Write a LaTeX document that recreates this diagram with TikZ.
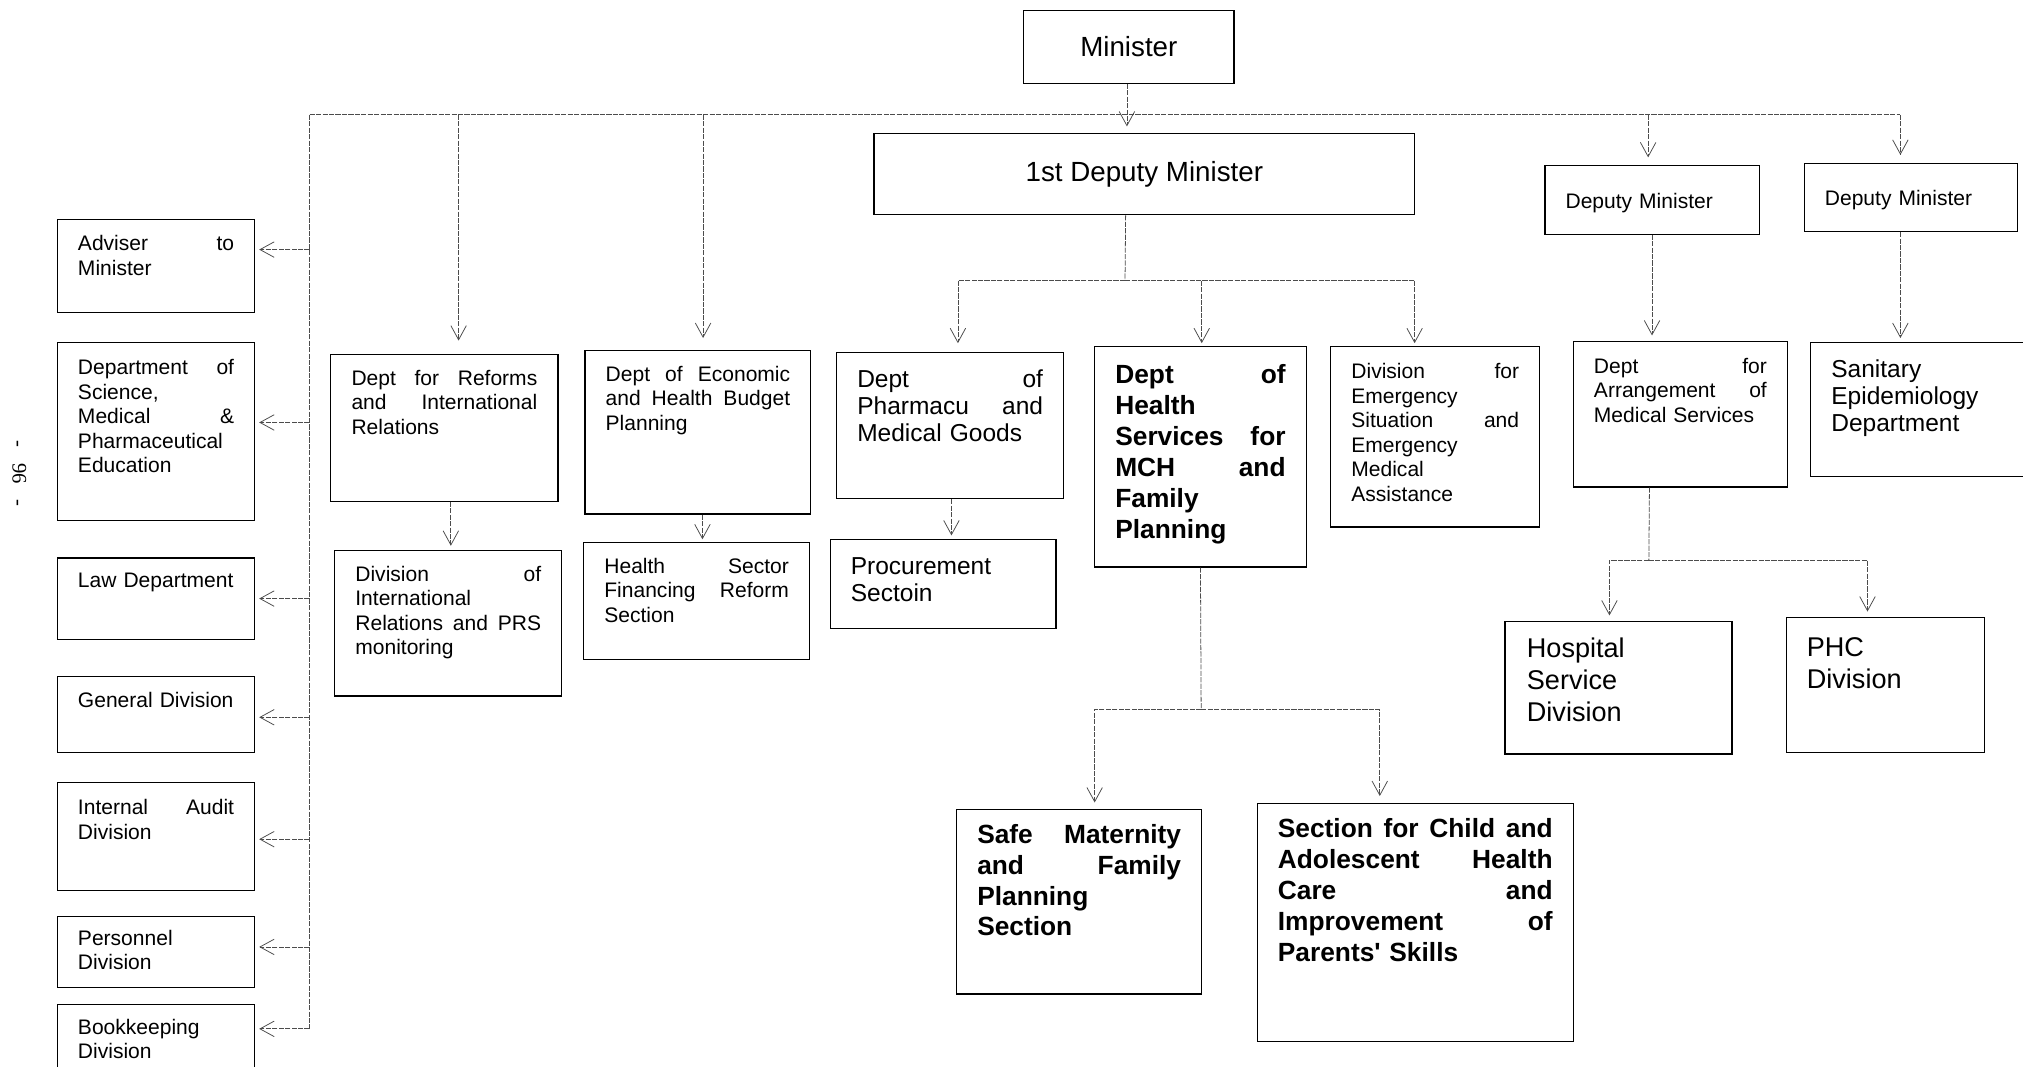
\documentclass[tikz,border=0pt]{standalone}
\usepackage{fontspec}
\setmainfont{Liberation Sans}
\newfontfamily\pnumfont{Liberation Serif}
\usetikzlibrary{arrows.meta}
\newcommand\fsmall{\fontsize{16.3pt}{19pt}\selectfont}
\newcommand\fmid{\fontsize{19pt}{21pt}\selectfont}
\newcommand\flarge{\fontsize{21pt}{25pt}\selectfont}
\newcommand\fbold{\fontsize{20.4pt}{24pt}\selectfont\bfseries}
\newcommand\fhead{\fontsize{21.5pt}{25pt}\selectfont}
\begin{document}
\begin{tikzpicture}[x=1pt, y=-1pt,
    box/.style={draw, line width=0.9pt, anchor=north west, inner xsep=16pt, inner ysep=0pt, align=left, font=\fsmall},
    cbox/.style={draw, line width=0.9pt, anchor=north west, inner sep=0pt, font=\fhead},
    conn/.style={black!70, line width=0.6pt, dash pattern=on 4pt off 1pt},
    arr/.style={conn, -{Straight Barb[length=11pt,width=12pt]}}]
    \useasboundingbox (0,0) rectangle (1568,827);

    \node[font=\pnumfont\fontsize{16pt}{18pt}\selectfont, rotate=-90] (pageno) at (15,367) {-\hspace{12pt}96\hspace{12pt}-};

    % top
    \node[cbox, minimum width=163pt, minimum height=56pt] (min) at (793,8) {Minister};
    \node[cbox, minimum width=419pt, minimum height=63pt] (dep1) at (677,103) {1st Deputy Minister};
    \node[box, text width=134pt, text height=33pt, text depth=20pt] (dm1) at (1197,128) {Deputy Minister};
    \node[box, text width=133pt, text height=33pt, text depth=20pt] (dm2) at (1398,126) {Deputy Minister};

    % left column
    \node[box, text width=121pt, text height=24pt, text depth=48pt] (adv) at (44,170) {Adviser\hfill to\\Minister};
    \node[box, text width=121pt, text height=25pt, text depth=113pt] (sci) at (44,265) {Department\hfill of\\Science,\\Medical\hfill \&\\Pharmaceutical\\Education};
    \node[box, text width=121pt, text height=23pt, text depth=40pt] (law) at (44,432) {Law Department};
    \node[box, text width=121pt, text height=24pt, text depth=35pt] (gen) at (44,524) {General Division};
    \node[box, text width=121pt, text height=25pt, text depth=59pt] (aud) at (44,606) {Internal\hfill Audit\\Division};
    \node[box, text width=121pt, text height=22pt, text depth=33pt] (pers) at (44,710) {Personnel\\Division};
    \node[box, text width=121pt, text height=23pt, text depth=37pt] (book) at (44,778) {Bookkeeping\\Division};

    % departments
    \node[box, text width=144pt, text height=24pt, text depth=90pt] (reforms) at (256,274) {Dept\hfill for\hfill Reforms\\and\hfill International\\Relations};
    \node[box, text width=144pt, text height=24pt, text depth=89pt] (ir) at (259,426) {Division\hfill of\\International\\Relations\hfill and\hfill PRS\\monitoring};
    \node[box, text width=143pt, text height=24pt, text depth=103pt] (econ) at (453,271) {Dept\hfill of\hfill Economic\\and\hfill Health\hfill Budget\\Planning};
    \node[box, text width=143pt, text height=24pt, text depth=67pt] (hsec) at (452,420) {Health\hfill Sector\\Financing\hfill Reform\\Section};
    \node[box, font=\fmid, text width=144pt, text height=27pt, text depth=86pt] (pharm) at (648,273) {Dept\hfill of\\Pharmacu\hfill and\\Medical Goods};
    \node[box, font=\fmid, text width=143pt, text height=27pt, text depth=42pt] (proc) at (643,418) {Procurement\\Sectoin};
    \node[box, font=\fbold, text width=132pt, text height=29pt, text depth=142pt] (mch) at (848,268) {Dept\hfill of\\Health\\Services\hfill for\\MCH\hfill and\\Family\\Planning};
    \node[box, text width=130pt, text height=25pt, text depth=115pt] (emer) at (1031,268) {Division\hfill for\\Emergency\\Situation\hfill and\\Emergency\\Medical\\Assistance};
    \node[box, font=\fbold, text width=158pt, text height=26pt, text depth=117pt] (safe) at (741,627) {Safe\hfill Maternity\\and\hfill Family\\Planning\\Section};
    \node[box, font=\fbold, text width=213pt, text height=27pt, text depth=158pt] (child) at (974,622) {Section\hfill for\hfill Child\hfill and\\Adolescent\hfill Health\\Care\hfill and\\Improvement\hfill of\\Parents\textquotesingle\ Skills};
    \node[box, text width=134pt, text height=25pt, text depth=88pt] (arrg) at (1219,264) {Dept\hfill for\\Arrangement\hfill of\\Medical Services};
    \node[box, font=\fmid, text width=140pt, text height=27pt, text depth=77pt] (sanit) at (1403,265) {Sanitary\\Epidemiology\\Department};
    \node[box, font=\flarge, inner xsep=17pt, text width=142pt, text height=28pt, text depth=75pt] (hosp) at (1166,481) {Hospital\\Service\\Division};
    \node[box, font=\flarge, text width=122pt, text height=30pt, text depth=75pt] (phc) at (1384,478) {PHC\\Division};

    % connectors
    \coordinate (busL) at (240,89);
    \coordinate (busR) at (1473,89);
    \draw[conn] (busL) -- (busR);
    \draw[conn] (busL) -- ([yshift=11pt]book.east -| busL);
    \draw[arr, shorten >=5pt] ([xshift=-1.5pt]min.south) -- ([xshift=-1.5pt]min.south |- dep1.north);
    \foreach \n/\s in {adv/13, sci/7, law/0, gen/-2, aud/-2, pers/4, book/11}
        \draw[arr, shorten >=3pt] ([yshift=\s pt]\n.east -| busL) -- ([yshift=\s pt]\n.east);
    \foreach \n/\s/\g in {reforms/11/10, econ/4/9, dm1/-3/6, dm2/-8/6}
        \draw[arr, shorten >=\g pt] ([xshift=\s pt]\n.north |- busL) -- ([xshift=\s pt]\n.north);

    \draw[arr, shorten >=3pt] ([xshift=5pt]reforms.south) -- ([xshift=5pt]reforms.south |- ir.north);
    \draw[arr, shorten >=2pt] ([xshift=3.5pt]econ.south) -- ([xshift=3.5pt]econ.south |- hsec.north);
    \draw[arr, shorten >=3pt] ([xshift=1pt]pharm.south) -- ([xshift=1pt]pharm.south |- proc.north);

    \coordinate (br1) at (872,217);
    \draw[conn] ([xshift=-14.5pt]dep1.south) -- (br1);
    \draw[arr, shorten >=7pt] (br1) -| ([xshift=6pt]pharm.north);
    \draw[arr, shorten >=2pt] (br1) -| ([xshift=1pt]mch.north);
    \draw[arr, shorten >=2pt] (br1) -| ([xshift=-16pt]emer.north);

    \coordinate (br2) at (931,550);
    \draw[conn] (mch.south) -- (br2);
    \draw[arr, shorten >=5pt] (br2) -| ([xshift=12pt]safe.north);
    \draw[arr, shorten >=5pt] (br2) -| ([xshift=-27.5pt]child.north);

    \draw[arr, shorten >=4pt] (dm1.south) -- (dm1.south |- arrg.north);
    \draw[arr, shorten >=3pt] ([xshift=-8pt]dm2.south) -- ([xshift=-8pt]dm2.south |- sanit.north);

    \coordinate (br3) at (1278,434);
    \draw[conn] ([xshift=-24pt]arrg.south) -- (br3);
    \draw[arr, shorten >=4pt] (br3) -| ([xshift=-7pt]hosp.north);
    \draw[arr, shorten >=4pt] (br3) -| ([xshift=-14pt]phc.north);
\end{tikzpicture}
\end{document}
